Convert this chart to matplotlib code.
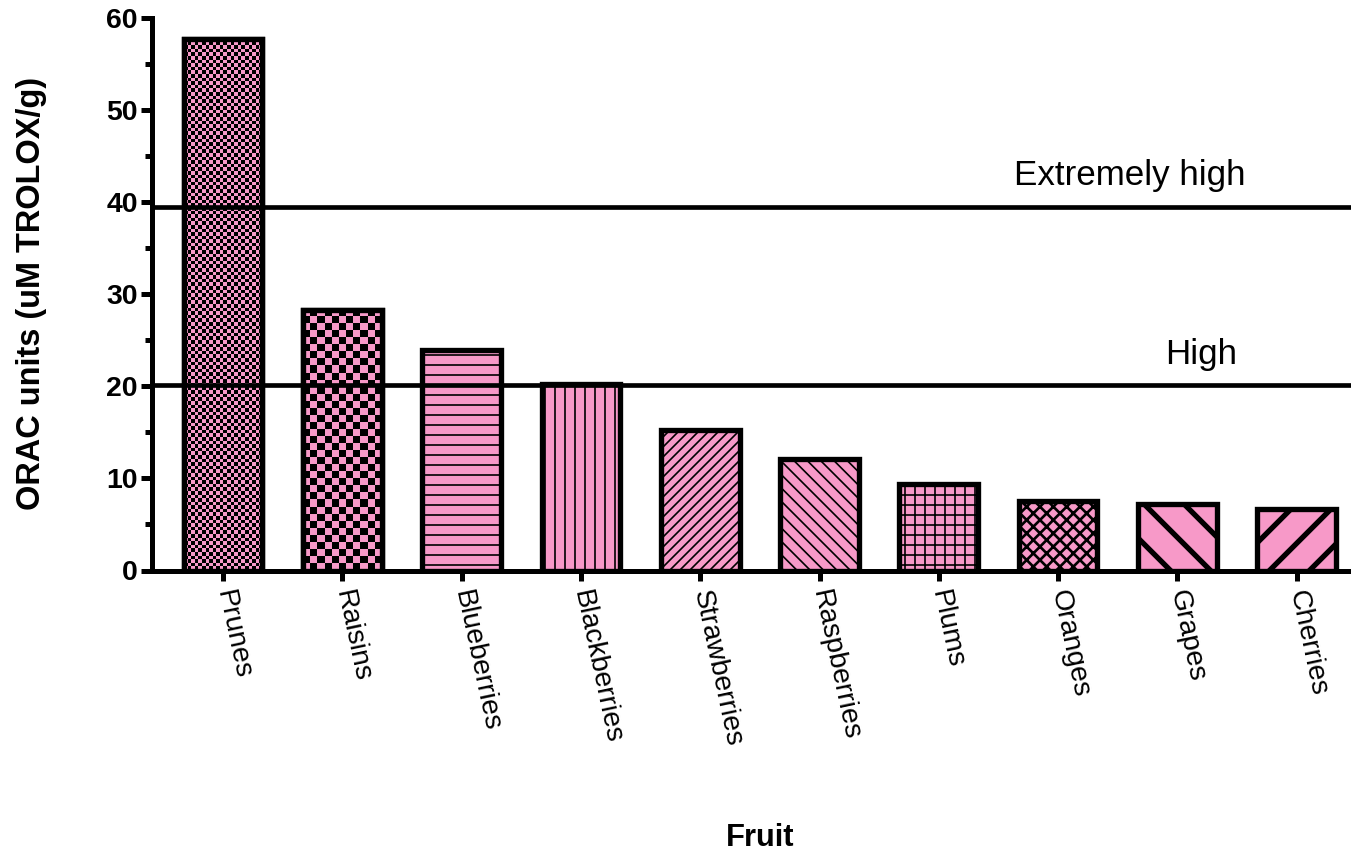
import matplotlib
matplotlib.use("Agg")
import matplotlib.pyplot as plt
import numpy as np
from matplotlib.colors import ListedColormap
from matplotlib.ticker import MultipleLocator

fruits = ["Prunes", "Raisins", "Blueberries", "Blackberries", "Strawberries",
          "Raspberries", "Plums", "Oranges", "Grapes", "Cherries"]
orac = [57.7, 28.3, 24.0, 20.2, 15.3, 12.1, 9.4, 7.5, 7.2, 6.7]
thresholds = [39.5, 20.1]
threshold_labels = ["Extremely high", "High"]
yticks = [0, 10, 20, 30, 40, 50, 60]

# style per bar: (hatch, hatch linewidth) or ('checker', square px)
styles = [("checker", 3.6), ("checker", 7.0), ("--", 1.0), ("||", 1.0),
          ("////", 1.0), ("\\\\\\", 1.0), ("++", 1.0), ("xxx", 1.6),
          ("\\", 3.2), ("/", 3.2)]

PINK = "#F799C8"
DPI = 120
W, H = 1351, 854

plt.rcParams["font.family"] = ["Liberation Sans", "DejaVu Sans"]

fig = plt.figure(figsize=(W / DPI, H / DPI), dpi=DPI)
ax_left, ax_right, ax_top, ax_bot = 152, 1351, 18, 570.5
ax = fig.add_axes([ax_left / W, 1 - ax_bot / H, (ax_right - ax_left) / W, (ax_bot - ax_top) / H])

x = np.arange(len(fruits))
bar_w = 0.66
ax.set_xlim(-0.595, 9.455)
ax.set_ylim(0, 60)

px_per_unit = (ax_bot - ax_top) / 60.0
px_per_x = 119.3
EDGE = 3.2

def wrap_hatch_lw(patch, lw):
    if hasattr(patch, "set_hatch_linewidth"):
        patch.set_hatch_linewidth(lw)
    orig = patch.draw
    def draw(renderer, _orig=orig, _lw=lw):
        with plt.rc_context({"hatch.linewidth": _lw}):
            _orig(renderer)
    patch.draw = draw

for i, (xi, v, (st, par)) in enumerate(zip(x, orac, styles)):
    if st == "checker":
        bars = ax.bar(xi, v, width=bar_w, color=PINK, edgecolor="black",
                      linewidth=EDGE, zorder=2)
        p = bars[0]
        x0 = xi - bar_w / 2
        x1 = xi + bar_w / 2
        nx = max(1, int(round(bar_w * px_per_x / par)))
        ny = max(1, int(round(v * px_per_unit / par)))
        yy, xx = np.mgrid[0:ny, 0:nx]
        arr = ((xx + yy) % 2).astype(float)
        im = ax.imshow(arr, extent=(x0, x1, v, 0), origin="upper",
                       cmap=ListedColormap([PINK, "black"]), vmin=0, vmax=1,
                       interpolation="nearest", aspect="auto", zorder=2.5)
        im.set_clip_path(p)
        ax.bar(xi, v, width=bar_w, facecolor="none", edgecolor="black",
               linewidth=EDGE, zorder=3)
    else:
        with plt.rc_context({"hatch.linewidth": par}):
            bars = ax.bar(xi, v, width=bar_w, color=PINK, edgecolor="black",
                          hatch=st, linewidth=EDGE, zorder=2)
        wrap_hatch_lw(bars[0], par)

for t in thresholds:
    ax.axhline(t, color="black", linewidth=2.8, zorder=4)

ax.text(7.60, 42.9, threshold_labels[0], ha="center", va="center", fontsize=21)
ax.text(8.20, 23.5, threshold_labels[1], ha="center", va="center", fontsize=21)

for s in ["top", "right"]:
    ax.spines[s].set_visible(False)
for s in ["left", "bottom"]:
    ax.spines[s].set_linewidth(3.0)
    ax.spines[s].set_zorder(5)

ax.set_yticks(yticks)
ax.yaxis.set_minor_locator(MultipleLocator(5))
ax.tick_params(axis="y", which="major", length=6.5, width=3.0, labelsize=17, pad=2)
ax.tick_params(axis="y", which="minor", length=4, width=3.0)
for lab in ax.get_yticklabels():
    lab.set_fontweight("bold")

ax.set_xticks(x)
ax.set_xticklabels(fruits, rotation=-78, rotation_mode="anchor",
                   ha="left", va="center", fontsize=17)
ax.tick_params(axis="x", which="major", length=6, width=3.0, pad=6)

fig.text(32 / W, 1 - 293 / H, "ORAC units (uM TROLOX/g)", rotation=90,
         ha="center", va="center", fontsize=19.5, fontweight="bold")
fig.text(760 / W, 1 - 838 / H, "Fruit", ha="center", va="center",
         fontsize=18.5, fontweight="bold")

fig.savefig("out.png", dpi=DPI)
